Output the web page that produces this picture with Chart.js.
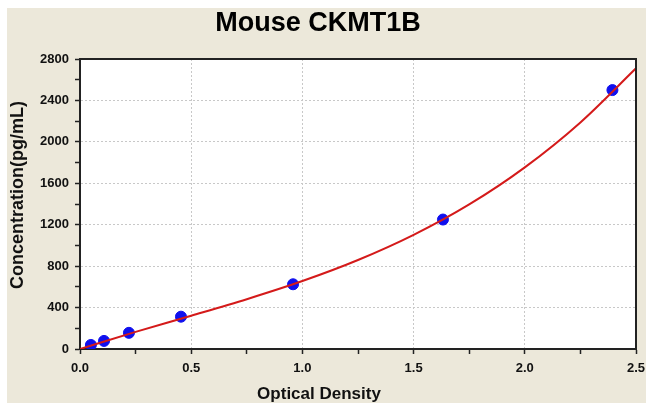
<!DOCTYPE html>
<html>
<head>
<meta charset="utf-8">
<script src="https://cdn.jsdelivr.net/npm/chart.js@4"></script>
<style>
  html, body { margin: 0; padding: 0; background: #fff; }
  #wrap { width: 646px; height: 403px; position: relative; }
</style>
</head>
<body>
<div id="wrap"><canvas id="curve-chart"></canvas></div>
<script>
// standard points (OD vs concentration)
const odValues = [0.049, 0.108, 0.22, 0.454, 0.958, 1.632, 2.394];
const concValues = [39, 78, 156, 312, 625, 1250, 2500];

// fitted curve
const curveOD = [0, 0.25, 0.5, 0.75, 1.0, 1.25, 1.5, 1.75, 2.0, 2.25, 2.5];
const curveConc = [0, 165, 321, 481, 656, 859, 1102, 1396, 1754, 2188, 2710];

const yTicks = [0, 400, 800, 1200, 1600, 2000, 2400, 2800];
const xTicks = [0.0, 0.5, 1.0, 1.5, 2.0, 2.5];

const FONT = "'Liberation Sans', Arial, sans-serif";

const isMajorY = (v) => yTicks.includes(v);
const isMajorX = (v) => xTicks.some(t => Math.abs(t - v) < 1e-6);

// beige panel, frame and axis titles
const decor = {
  id: "decor",
  beforeDraw(chart) {
    const c = chart.ctx;
    c.save();
    c.fillStyle = "#fff";
    c.fillRect(0, 0, chart.width, chart.height);
    c.fillStyle = "#ece8da";
    c.fillRect(7, 8, chart.width - 7, chart.height - 8);
    const a = chart.chartArea;
    c.fillStyle = "#fff";
    c.fillRect(a.left, a.top, a.right - a.left, a.bottom - a.top);
    c.restore();
  },
  afterDraw(chart) {
    const c = chart.ctx;
    const a = chart.chartArea;
    c.save();
    c.strokeStyle = "#222";
    c.lineWidth = 2;
    c.beginPath();
    c.moveTo(a.left, a.top);
    c.lineTo(a.right, a.top);
    c.lineTo(a.right, a.bottom);
    c.stroke();

    c.fillStyle = "#111";
    c.font = "bold 17px " + FONT;
    c.textAlign = "center";
    c.textBaseline = "alphabetic";
    c.fillText("Optical Density", 319, 399);

    c.translate(23, 195);
    c.rotate(-Math.PI / 2);
    c.font = "bold 18px " + FONT;
    c.fillText("Concentration(pg/mL)", 0, 0);
    c.restore();
  },
};

const points = odValues.map((x, i) => ({ x, y: concValues[i] }));
const curve = curveOD.map((x, i) => ({ x, y: curveConc[i] }));

new Chart(document.getElementById("curve-chart"), {
  type: "scatter",
  data: {
    datasets: [
      {
        type: "line",
        data: curve,
        borderColor: "#d41a1a",
        borderWidth: 2,
        pointRadius: 0,
        cubicInterpolationMode: "monotone",
        fill: false,
        order: 0,
      },
      {
        data: points,
        backgroundColor: "#1010ee",
        borderColor: "#1010ee",
        pointRadius: 5.5,
        order: 1,
      },
    ],
  },
  options: {
    responsive: true,
    maintainAspectRatio: false,
    animation: false,
    layout: { padding: { top: 0, left: 0, right: 10, bottom: 0 } },
    plugins: {
      legend: { display: false },
      tooltip: { enabled: false },
      title: {
        display: true,
        text: "Mouse CKMT1B",
        color: "#000",
        font: { family: FONT, size: 27, weight: "bold" },
        padding: { top: 7, bottom: 19.6 },
      },
    },
    scales: {
      x: {
        type: "linear",
        min: 0,
        max: 2.5,
        afterFit: (s) => {
          s.height = 54;
          s.paddingRight = 0;
          s.paddingLeft = 0;
        },
        afterBuildTicks: (s) => {
          s.ticks = [0, 0.25, 0.5, 0.75, 1, 1.25, 1.5, 1.75, 2, 2.25, 2.5].map(v => ({ value: v }));
        },
        ticks: {
          color: "#111",
          padding: 7,
          maxRotation: 0,
          autoSkip: false,
          font: { family: FONT, size: 13, weight: "bold" },
          callback: (v) => (isMajorX(v) ? v.toFixed(1) : ""),
        },
        grid: {
          color: (ctx) => {
            const v = ctx.tick ? ctx.tick.value : null;
            return v !== null && isMajorX(v) && v > 0 && v < 2.5 ? "#c8c8c8" : "rgba(0,0,0,0)";
          },
          lineWidth: 1,
          tickColor: "#222",
          tickLength: 5,
          tickWidth: 1.5,
        },
        border: { display: true, color: "#222", width: 2, dash: [2, 2] },
      },
      y: {
        min: 0,
        max: 2800,
        afterFit: (s) => { s.width = 80; },
        afterBuildTicks: (s) => {
          const t = [];
          for (let v = 0; v <= 2800; v += 200) t.push({ value: v });
          s.ticks = t;
        },
        ticks: {
          color: "#111",
          padding: 6,
          autoSkip: false,
          font: { family: FONT, size: 13, weight: "bold" },
          callback: (v) => (isMajorY(v) ? String(v) : ""),
        },
        grid: {
          color: (ctx) => {
            const v = ctx.tick ? ctx.tick.value : null;
            return v !== null && isMajorY(v) && v > 0 && v < 2800 ? "#c8c8c8" : "rgba(0,0,0,0)";
          },
          lineWidth: 1,
          tickColor: "#222",
          tickLength: 5,
          tickWidth: 1.5,
        },
        border: { display: true, color: "#222", width: 2, dash: [2, 2] },
      },
    },
  },
  plugins: [decor],
});
</script>
</body>
</html>
